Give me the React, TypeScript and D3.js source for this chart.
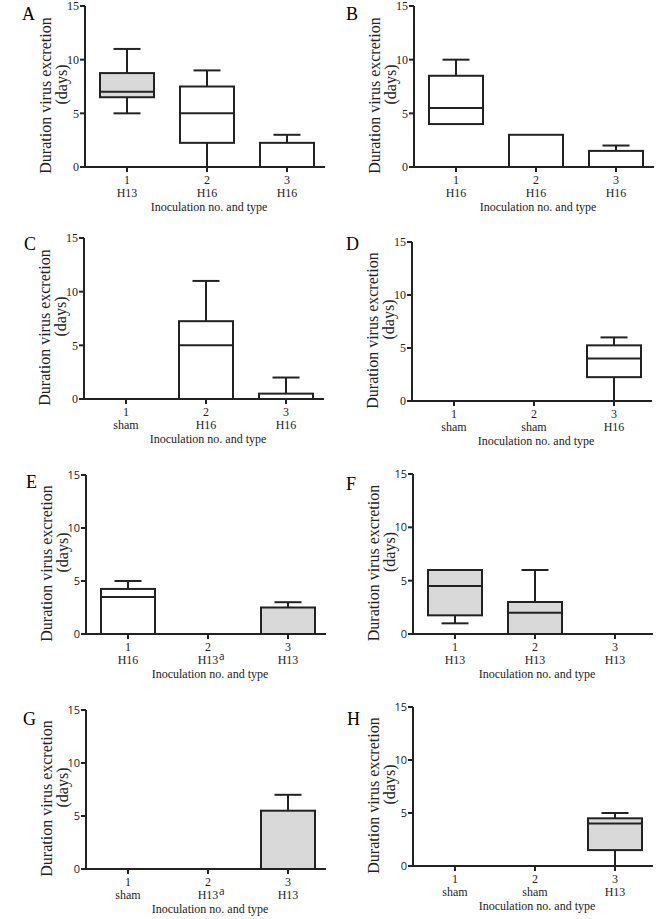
import React from "react";
import * as d3 from "d3";

// ---- data ----
const panelLetters = ["A", "B", "C", "D", "E", "F", "G", "H"];
const inoculationNos = ["1", "2", "3"];
const yTicks = [0, 5, 10, 15];

const typesA = ["H13", "H16", "H16"];
const typesB = ["H16", "H16", "H16"];
const typesC = ["sham", "H16", "H16"];
const typesD = ["sham", "sham", "H16"];
const typesE = ["H16", "H13", "H13"];
const typesF = ["H13", "H13", "H13"];
const typesG = ["sham", "H13", "H13"];
const typesH = ["sham", "sham", "H13"];

const footnotesE = ["", "a", ""];
const footnotesG = ["", "a", ""];
const noFootnotes = ["", "", ""];

// [min, q1, median, q3, max] per inoculation
const boxesA = [[5, 6.5, 7, 8.75, 11], [0, 2.25, 5, 7.5, 9], [0, 0, 0, 2.25, 3]];
const boxesB = [[4, 4, 5.5, 8.5, 10], [0, 0, 0, 3, 3], [0, 0, 0, 1.5, 2]];
const boxesC = [[0, 0, 0, 0, 0], [0, 0, 5, 7.25, 11], [0, 0, 0, 0.5, 2]];
const boxesD = [[0, 0, 0, 0, 0], [0, 0, 0, 0, 0], [0, 2.25, 4, 5.25, 6]];
const boxesE = [[0, 0, 3.5, 4.25, 5], [0, 0, 0, 0, 0], [0, 0, 0, 2.5, 3]];
const boxesF = [[1, 1.75, 4.5, 6, 6], [0, 0, 2, 3, 6], [0, 0, 0, 0, 0]];
const boxesG = [[0, 0, 0, 0, 0], [0, 0, 0, 0, 0], [0, 0, 0, 5.5, 7]];
const boxesH = [[0, 0, 0, 0, 0], [0, 0, 0, 0, 0], [0, 1.5, 4, 4.5, 5]];

const yTitle1 = "Duration virus excretion";
const yTitle2 = "(days)";
const xTitle = "Inoculation no. and type";

// ---- layout ----
const panelAxisX = [85, 414, 84, 412, 86, 413, 86, 413];
const panelY0 = [167, 167, 399, 401, 634, 634, 869, 866];
const panelY15 = [6, 6, 238, 242, 475, 474, 710, 707];
const panelLetterX = [22, 346, 24, 346, 26, 346, 23, 347];
const panelLetterY = [20, 20, 250, 250, 488, 490, 725, 725];
const sansTicks = [false, false, false, false, true, true, true, true];

const panels = [
  { types: typesA, boxes: boxesA, notes: noFootnotes },
  { types: typesB, boxes: boxesB, notes: noFootnotes },
  { types: typesC, boxes: boxesC, notes: noFootnotes },
  { types: typesD, boxes: boxesD, notes: noFootnotes },
  { types: typesE, boxes: boxesE, notes: footnotesE },
  { types: typesF, boxes: boxesF, notes: noFootnotes },
  { types: typesG, boxes: boxesG, notes: footnotesG },
  { types: typesH, boxes: boxesH, notes: noFootnotes },
];

const INK = "#222";
const GRAY = "#d9d9d9";
const SERIF = "'Liberation Serif', 'DejaVu Serif', serif";
const SANS = "'Open Sans', 'Liberation Sans', sans-serif";
const BOX_W = 54;

function Panel({ i }: { i: number }) {
  const p = panels[i];
  const ax = panelAxisX[i];
  const y0 = panelY0[i];
  const y15 = panelY15[i];
  const y = d3.scaleLinear().domain([0, 15]).range([y0, y15]);
  const x = d3.scalePoint<string>().domain(inoculationNos).range([ax + 42, ax + 202]);
  const mid = (y0 + y15) / 2;
  const tickFont = sansTicks[i] ? SANS : SERIF;
  const tickSize = sansTicks[i] ? 11 : 12;

  return (
    <g>
      <text x={panelLetterX[i]} y={panelLetterY[i]} fontFamily={SERIF} fontSize={18}>
        {panelLetters[i]}
      </text>
      {/* boxes */}
      {p.boxes.map((b, k) => {
        const [mn, q1, med, q3, mx] = b;
        if (mx <= 0) return null;
        const cx = x(inoculationNos[k]) as number;
        const fill = p.types[k] === "H13" ? GRAY : "#fff";
        const half = BOX_W / 2;
        return (
          <g key={k} stroke={INK} strokeWidth={2}>
            {mx > q3 && <line x1={cx} x2={cx} y1={y(q3)} y2={y(mx)} />}
            {mx > q3 && <line x1={cx - half / 2} x2={cx + half / 2} y1={y(mx)} y2={y(mx)} />}
            {mn < q1 && <line x1={cx} x2={cx} y1={y(q1)} y2={y(mn)} />}
            {mn < q1 && <line x1={cx - half / 2} x2={cx + half / 2} y1={y(mn)} y2={y(mn)} />}
            <rect x={cx - half} width={BOX_W} y={y(q3)} height={y(q1) - y(q3)} fill={fill} />
            <line x1={cx - half} x2={cx + half} y1={y(med)} y2={y(med)} />
          </g>
        );
      })}
      {/* y axis */}
      <line x1={ax} x2={ax} y1={y(0)} y2={y(15)} stroke={INK} strokeWidth={2} />
      {yTicks.map((t) => (
        <g key={t}>
          <line x1={ax - 5} x2={ax} y1={y(t)} y2={y(t)} stroke={INK} strokeWidth={2} />
          <text
            x={ax - 6}
            y={y(t)}
            dy="0.35em"
            textAnchor="end"
            fontFamily={tickFont}
            fontSize={tickSize}
            fill={INK}
          >
            {t}
          </text>
        </g>
      ))}
      {/* x axis */}
      <line x1={ax - 1} x2={ax + 240} y1={y0} y2={y0} stroke={INK} strokeWidth={2} />
      {inoculationNos.map((c, k) => {
        const cx = x(c) as number;
        return (
          <g key={c}>
            <line x1={cx} x2={cx} y1={y0} y2={y0 + 5} stroke={INK} strokeWidth={2} />
            <text x={cx} y={y0 + 17} textAnchor="middle" fontFamily={SERIF} fontSize={12} fill={INK}>
              {c}
            </text>
            <text x={cx} y={y0 + 30} textAnchor="middle" fontFamily={SERIF} fontSize={12} fill={INK}>
              {p.types[k]}
            </text>
            {p.notes[k] && (
              <text x={cx + 11} y={y0 + 26} fontFamily={SANS} fontSize={10} fill={INK}>
                {p.notes[k]}
              </text>
            )}
          </g>
        );
      })}
      <text x={ax + 124} y={y0 + 44} textAnchor="middle" fontFamily={SERIF} fontSize={12} fill={INK}>
        {xTitle}
      </text>
      <text
        transform={`translate(${ax - 34},${mid + 9}) rotate(-90)`}
        textAnchor="middle"
        fontFamily={SERIF}
        fontSize={16}
        fill={INK}
      >
        {yTitle1}
      </text>
      <text
        transform={`translate(${ax - 18},${mid - 2}) rotate(-90)`}
        textAnchor="middle"
        fontFamily={SERIF}
        fontSize={16}
        fill={INK}
      >
        {yTitle2}
      </text>
    </g>
  );
}

export default function App() {
  return (
    <svg
      width={658}
      height={919}
      style={{ position: "absolute", left: 0, top: 0, background: "#fff" }}
    >
      <rect width={658} height={919} fill="#fff" />
      {panelLetters.map((_, i) => (
        <Panel key={i} i={i} />
      ))}
    </svg>
  );
}
